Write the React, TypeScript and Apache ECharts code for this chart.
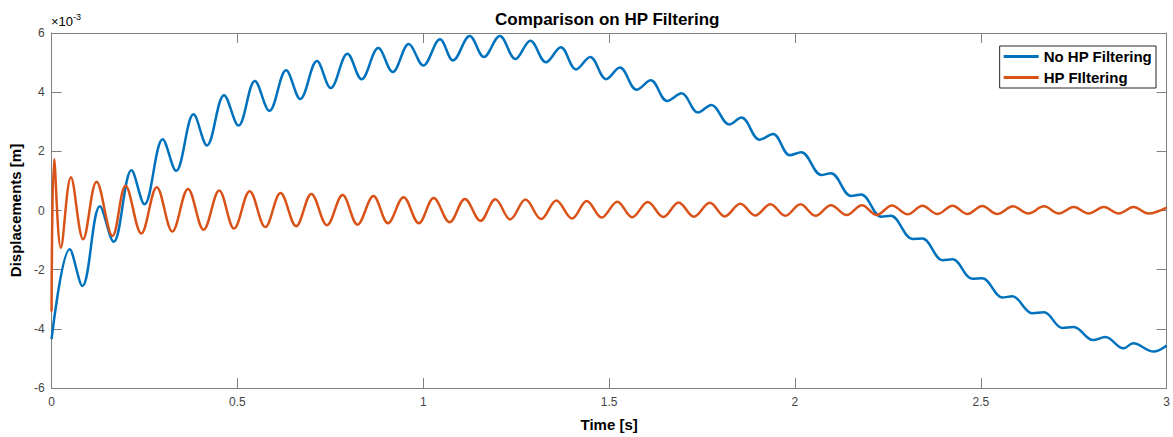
import React, { useEffect, useRef } from "react";
import * as echarts from "echarts";

// Values in units of 1e-3 m, time in s
const noHpFiltering: [number, number][] = [
  [0, -4.35], [0.049, -1.31], [0.083, -2.55], [0.13, 0.14], [0.167, -1.06],
  [0.215, 1.36], [0.25, 0.21], [0.299, 2.41], [0.335, 1.34], [0.382, 3.25],
  [0.418, 2.2], [0.464, 3.9], [0.503, 2.87], [0.547, 4.38], [0.586, 3.37],
  [0.631, 4.74], [0.669, 3.77], [0.714, 5.05], [0.751, 4.14], [0.796, 5.3],
  [0.834, 4.44], [0.879, 5.49], [0.918, 4.68], [0.961, 5.63], [1.0, 4.9],
  [1.045, 5.79], [1.08, 5.07], [1.125, 5.9], [1.163, 5.19], [1.206, 5.9],
  [1.248, 5.12], [1.288, 5.74], [1.33, 5.01], [1.37, 5.52], [1.411, 4.77],
  [1.449, 5.19], [1.492, 4.44], [1.529, 4.83], [1.574, 4.08], [1.612, 4.4],
  [1.656, 3.7], [1.695, 3.96], [1.739, 3.31], [1.775, 3.57], [1.823, 2.91],
  [1.856, 3.14], [1.905, 2.39], [1.941, 2.59], [1.986, 1.87], [2.017, 1.97],
  [2.071, 1.2], [2.097, 1.26], [2.151, 0.49], [2.178, 0.54], [2.232, -0.21],
  [2.258, -0.18], [2.316, -0.96], [2.343, -0.95], [2.397, -1.68], [2.424, -1.65],
  [2.477, -2.31], [2.504, -2.29], [2.558, -2.94], [2.585, -2.9], [2.638, -3.47],
  [2.67, -3.44], [2.719, -3.97], [2.75, -3.94], [2.802, -4.38], [2.835, -4.28],
  [2.884, -4.66], [2.91, -4.49], [2.965, -4.77], [3.0, -4.56],
];

const hpFiltering: [number, number][] = [
  [0, -3.41], [0.007, 1.73], [0.025, -1.26], [0.052, 1.12], [0.085, -0.97],
  [0.121, 0.97], [0.164, -0.86], [0.199, 0.84], [0.2415, -0.78], [0.283, 0.79],
  [0.325, -0.71], [0.367, 0.73], [0.409, -0.65], [0.451, 0.68], [0.491, -0.61],
  [0.533, 0.65], [0.575, -0.56], [0.616, 0.59], [0.658, -0.53], [0.699, 0.56],
  [0.741, -0.5], [0.783, 0.52], [0.823, -0.48], [0.866, 0.49], [0.905, -0.43],
  [0.947, 0.45], [0.988, -0.43], [1.028, 0.42], [1.071, -0.4], [1.112, 0.39],
  [1.154, -0.35], [1.194, 0.38], [1.234, -0.3], [1.275, 0.37], [1.317, -0.29],
  [1.358, 0.34], [1.4, -0.27], [1.44, 0.32], [1.48, -0.24], [1.522, 0.3],
  [1.562, -0.23], [1.604, 0.29], [1.646, -0.22], [1.687, 0.27], [1.728, -0.21],
  [1.771, 0.26], [1.811, -0.2], [1.853, 0.23], [1.893, -0.17], [1.934, 0.21],
  [1.974, -0.18], [2.015, 0.21], [2.055, -0.18], [2.097, 0.18], [2.139, -0.15],
  [2.18, 0.18], [2.22, -0.15], [2.261, 0.17], [2.303, -0.13], [2.343, 0.16],
  [2.383, -0.12], [2.424, 0.16], [2.464, -0.12], [2.504, 0.15], [2.544, -0.12],
  [2.587, 0.14], [2.628, -0.1], [2.67, 0.14], [2.71, -0.1], [2.75, 0.12],
  [2.79, -0.1], [2.831, 0.12], [2.871, -0.1], [2.911, 0.12], [2.951, -0.1],
  [3.0, 0.1],
];

const seriesNames = ["No HP Filtering", "HP FIltering"];
const xTicks = { min: 0, max: 3, interval: 0.5 };
const yTicks = { min: -6, max: 6, interval: 2 };

const FONT = "'Liberation Sans', Arial, Helvetica, sans-serif";
const AXIS_COLOR = "#808080";
const LABEL_COLOR = "#444444";

export default function App() {
  const ref = useRef<HTMLDivElement>(null);
  useEffect(() => {
    if (!ref.current) return;
    const chart = echarts.init(ref.current, undefined, { renderer: "svg" });
    const axisLine = { show: true, onZero: false, lineStyle: { color: AXIS_COLOR, width: 1 } };
    const tick = { show: true, inside: true, length: 10, lineStyle: { color: AXIS_COLOR, width: 1 } };
    chart.setOption({
      animation: false,
      backgroundColor: "#ffffff",
      title: {
        text: "Comparison on HP Filtering",
        left: 495,
        top: 11,
        padding: 0,
        textStyle: { fontFamily: FONT, fontSize: 17, fontWeight: "bold", color: "#000" },
      },
      legend: {
        orient: "vertical",
        right: 17,
        top: 46,
        padding: [3, 4, 3, 4],
        itemGap: 6,
        itemWidth: 35,
        itemHeight: 3,
        borderColor: "#262626",
        borderWidth: 1,
        backgroundColor: "#ffffff",
        data: seriesNames.map((n) => ({ name: n, icon: "rect" })),
        textStyle: { fontFamily: FONT, fontSize: 15, fontWeight: "bold", color: "#000" },
      },
      grid: { left: 50, top: 33, width: 1118, height: 361, containLabel: false },
      xAxis: [
        {
          type: "value",
          ...xTicks,
          position: "bottom",
          axisLine,
          axisTick: tick,
          splitLine: { show: false },
          axisLabel: { margin: 8, color: LABEL_COLOR, fontFamily: FONT, fontSize: 12 },
          name: "Time [s]",
          nameLocation: "middle",
          nameGap: 29,
          nameTextStyle: { fontFamily: FONT, fontSize: 15, fontWeight: "bold", color: "#000" },
        },
        {
          type: "value",
          ...xTicks,
          position: "top",
          axisLine,
          axisTick: tick,
          splitLine: { show: false },
          axisLabel: { show: false },
        },
      ],
      yAxis: [
        {
          type: "value",
          ...yTicks,
          position: "left",
          axisLine,
          axisTick: tick,
          splitLine: { show: false },
          axisLabel: { margin: 7, color: LABEL_COLOR, fontFamily: FONT, fontSize: 12 },
          name: "Displacements [m]",
          nameLocation: "middle",
          nameGap: 22,
          nameTextStyle: { fontFamily: FONT, fontSize: 15, fontWeight: "bold", color: "#000" },
        },
        {
          type: "value",
          ...yTicks,
          position: "right",
          axisLine,
          axisTick: tick,
          splitLine: { show: false },
          axisLabel: { show: false },
        },
      ],
      graphic: [
        {
          type: "text",
          left: 51,
          top: 12,
          style: {
            text: "{a|×10}{b|-3}",
            rich: {
              a: { fontFamily: FONT, fontSize: 13, color: LABEL_COLOR, padding: [6, 0, 0, 0] },
              b: { fontFamily: FONT, fontSize: 9, color: LABEL_COLOR, padding: [0, 0, 4, 0] },
            },
          },
        },
      ],
      series: [
        {
          name: seriesNames[0],
          type: "line",
          data: noHpFiltering,
          smooth: 0.36,
          symbol: "none",
          lineStyle: { width: 2.5, color: "#0072BD" },
          itemStyle: { color: "#0072BD" },
          clip: true,
        },
        {
          name: seriesNames[1],
          type: "line",
          data: hpFiltering,
          smooth: 0.36,
          symbol: "none",
          lineStyle: { width: 2.5, color: "#D95319" },
          itemStyle: { color: "#D95319" },
          clip: true,
        },
      ],
    });
    return () => chart.dispose();
  }, []);
  return (
    <div
      ref={ref}
      style={{ position: "fixed", left: 0, top: 0, width: 1173, height: 437, background: "#fff" }}
    />
  );
}
